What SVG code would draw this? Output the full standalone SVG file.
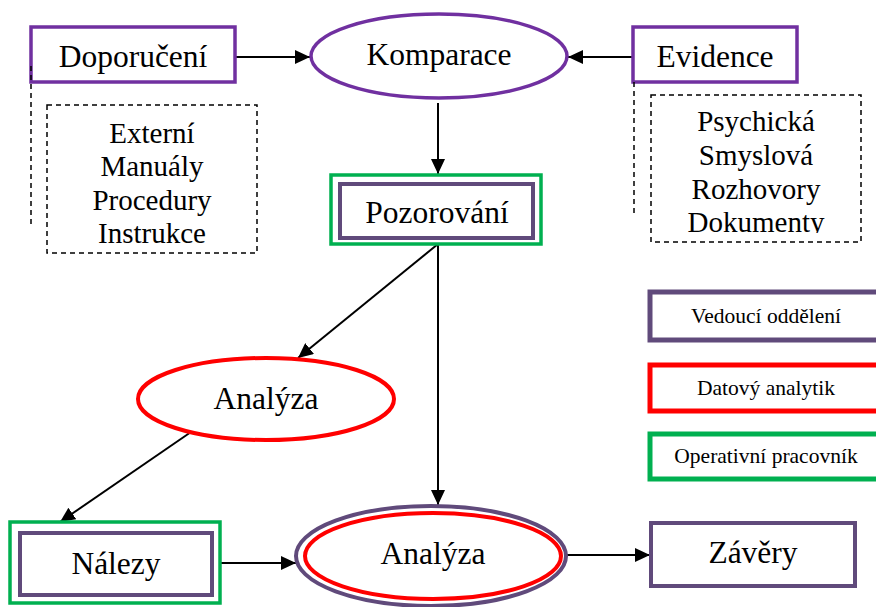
<svg xmlns="http://www.w3.org/2000/svg" width="876" height="607" viewBox="0 0 876 607">
<style>
text{font-family:"Liberation Serif","Times New Roman",serif;fill:#000;text-anchor:middle}
.lbl{font-size:31.5px}
.lst{font-size:29px}
.leg{font-size:21.5px}
.vp{fill:#fff;stroke:#7030A0;stroke-width:3.5}
.dp{fill:#fff;stroke:#604A7B;stroke-width:4}
.gr{fill:#fff;stroke:#00B050;stroke-width:3.5}
.rd{fill:#fff;stroke:#FF0000;stroke-width:4}
.dash{fill:none;stroke:#000;stroke-width:1.5;stroke-dasharray:5 4}
.con{stroke:#000;stroke-width:2;fill:none}
</style>
<defs>
<marker id="ah" markerUnits="userSpaceOnUse" markerWidth="16" markerHeight="14" refX="15" refY="7" orient="auto">
<path d="M0,0 L15,7 L0,14 Z" fill="#000"/>
</marker>
<clipPath id="clipEv"><rect x="650" y="95" width="212" height="138"/></clipPath>
</defs>

<g id="connectors">
<line class="con" x1="236" y1="57" x2="310" y2="57" marker-end="url(#ah)"/>
<line class="con" x1="633" y1="57" x2="568" y2="57" marker-end="url(#ah)"/>
<line class="con" x1="438" y1="103" x2="438" y2="174" marker-end="url(#ah)"/>
<line class="con" x1="438" y1="244" x2="298" y2="358" marker-end="url(#ah)"/>
<line class="con" x1="438" y1="244" x2="438" y2="505" marker-end="url(#ah)"/>
<line class="con" x1="191" y1="432" x2="60" y2="522" marker-end="url(#ah)"/>
<line class="con" x1="220" y1="563" x2="296" y2="563" marker-end="url(#ah)"/>
<line class="con" x1="567" y1="555" x2="650" y2="555" marker-end="url(#ah)"/>
</g>

<g id="doporuceni">
<rect class="vp" x="31" y="27" width="204" height="55"/>
<text class="lbl" x="133" y="67">Doporučení</text>
</g>
<g id="doporuceni-list">
<line class="dash" x1="31" y1="66" x2="31" y2="227"/>
<rect class="dash" x="47" y="105" width="210" height="148"/>
<text class="lst" x="152" y="143">Externí</text>
<text class="lst" x="152" y="176">Manuály</text>
<text class="lst" x="152" y="210">Procedury</text>
<text class="lst" x="152" y="243">Instrukce</text>
</g>

<g id="komparace">
<ellipse class="vp" cx="439" cy="56" rx="128" ry="42"/>
<text class="lbl" x="439" y="65">Komparace</text>
</g>

<g id="evidence">
<rect class="vp" x="633" y="27" width="164" height="55"/>
<text class="lbl" x="715" y="67">Evidence</text>
</g>
<g id="evidence-list">
<line class="dash" x1="634" y1="82" x2="634" y2="215"/>
<rect class="dash" x="651" y="95" width="210" height="147"/>
<g clip-path="url(#clipEv)">
<text class="lst" x="756" y="131">Psychická</text>
<text class="lst" x="756" y="165">Smyslová</text>
<text class="lst" x="756" y="199">Rozhovory</text>
<text class="lst" x="756" y="232">Dokumenty</text>
</g>
</g>

<g id="pozorovani">
<rect class="gr" x="331" y="175" width="210" height="69"/>
<rect class="dp" x="340" y="184" width="193" height="54"/>
<text class="lbl" x="437" y="223">Pozorování</text>
</g>

<g id="analyza1">
<ellipse class="rd" cx="266" cy="399" rx="128" ry="41"/>
<text class="lbl" x="266" y="409">Analýza</text>
</g>

<g id="nalezy">
<rect class="gr" x="10" y="522" width="210" height="81"/>
<rect class="dp" x="20" y="533" width="192" height="62"/>
<text class="lbl" x="116" y="574">Nálezy</text>
</g>

<g id="analyza2">
<ellipse class="dp" cx="431" cy="556" rx="135" ry="50"/>
<ellipse class="rd" cx="433" cy="556" rx="128" ry="43"/>
<text class="lbl" x="433" y="564">Analýza</text>
</g>

<g id="zavery">
<rect class="dp" x="651" y="523" width="204" height="63"/>
<text class="lbl" x="753" y="563">Závěry</text>
</g>

<g id="legend">
<g id="leg-vedouci">
<rect class="dp" x="650" y="292" width="232" height="48" style="stroke-width:5"/>
<text class="leg" x="766" y="323">Vedoucí oddělení</text>
</g>
<g id="leg-datovy">
<rect class="rd" x="650" y="365" width="232" height="46" style="stroke-width:5"/>
<text class="leg" x="766" y="395">Datový analytik</text>
</g>
<g id="leg-operativni">
<rect class="gr" x="650" y="434" width="232" height="45" style="stroke-width:5"/>
<text class="leg" x="766" y="463">Operativní pracovník</text>
</g>
</g>
</svg>
